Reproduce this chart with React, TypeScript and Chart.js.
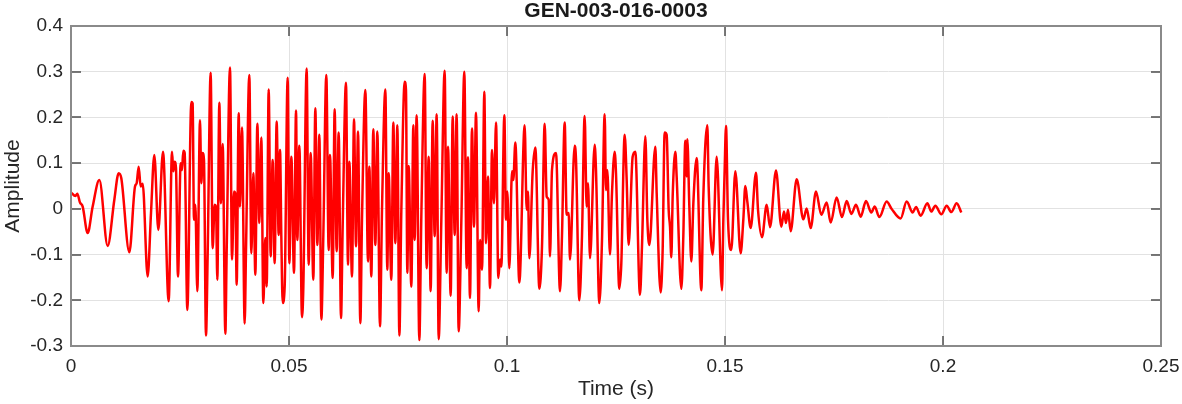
import React, { useEffect, useRef } from "react";
import { Chart, registerables } from "chart.js";

Chart.register(...registerables);

const TITLE = "GEN-003-016-0003";
const X_LABEL = "Time (s)";
const Y_LABEL = "Amplitude";
const X_TICKS = [0, 0.05, 0.1, 0.15, 0.2, 0.25];
const Y_TICKS = [-0.3, -0.2, -0.1, 0, 0.1, 0.2, 0.3, 0.4];

// time of each read point, in milliseconds
const timeMs = [
  0.0, 1.01, 1.45, 2.06, 2.68, 3.82, 4.97, 6.5, 8.41, 9.94, 10.93, 11.54, 13.38, 14.68, 15.06, 15.52, 15.98, 16.44,
  17.58, 18.35, 19.11, 20.03, 21.1, 22.4, 23.17, 23.47, 23.78, 24.08, 24.54, 25.15, 25.46, 25.76, 26.07, 26.68,
  27.6, 27.9, 28.21, 28.52, 28.97, 29.59, 29.89, 30.2, 30.5, 30.96, 31.35, 32.03, 32.49, 32.95, 33.26, 33.56,
  34.02, 34.4, 34.79, 35.4, 35.7, 36.47, 36.93, 37.39, 37.69, 38.0, 38.46, 38.76, 39.22, 39.83, 40.14, 40.9,
  41.36, 41.82, 42.28, 42.74, 43.2, 43.65, 44.11, 44.57, 44.88, 45.34, 45.8, 46.25, 46.71, 47.17, 47.63, 47.94,
  48.24, 48.55, 49.01, 49.69, 50.08, 50.54, 51.15, 51.61, 51.91, 52.37, 52.98, 53.29, 54.05, 54.51, 54.97, 55.58,
  56.04, 56.5, 56.96, 57.42, 57.87, 58.56, 59.1, 59.4, 60.02, 60.47, 60.93, 61.39, 61.93, 62.31, 63.07, 63.53,
  63.84, 64.45, 64.91, 65.37, 65.83, 66.36, 66.74, 67.51, 68.12, 68.43, 68.88, 69.34, 69.8, 70.26, 70.87, 71.33,
  72.1, 72.55, 72.86, 73.47, 73.93, 74.39, 74.85, 75.31, 75.76, 76.53, 76.83, 77.14, 77.45, 78.06, 78.52, 78.82,
  79.28, 79.89, 80.35, 81.12, 81.57, 82.03, 82.49, 82.95, 83.41, 83.87, 84.33, 84.94, 85.7, 86.16, 86.47, 87.08,
  87.54, 88.0, 88.45, 88.91, 89.52, 90.21, 90.75, 91.05, 91.51, 91.97, 92.43, 92.89, 93.5, 93.81, 94.27, 94.8,
  95.18, 95.64, 96.1, 96.56, 97.02, 97.48, 98.01, 98.39, 98.7, 99.39, 99.77, 100.08, 100.53, 101.15, 101.45,
  101.91, 102.83, 104.05, 104.51, 104.82, 105.12, 105.89, 106.5, 107.42, 108.03, 108.64, 109.1, 109.56, 109.86,
  110.32, 111.24, 112.16, 112.61, 113.23, 113.68, 114.14, 114.45, 115.52, 115.83, 116.59, 117.2, 117.81, 118.27,
  118.58, 119.04, 120.11, 120.41, 121.18, 121.79, 122.4, 122.71, 123.01, 123.62, 124.08, 124.69, 125.0, 125.76,
  126.22, 126.99, 127.45, 127.9, 128.82, 129.43, 130.5, 130.96, 131.73, 132.19, 132.65, 134.02, 134.33, 135.24,
  135.7, 136.16, 136.62, 137.08, 137.39, 137.69, 138.0, 138.61, 138.91, 139.98, 140.44, 140.9, 141.21, 141.36,
  141.82, 142.28, 142.74, 143.5, 144.57, 145.03, 145.95, 146.25, 147.17, 148.09, 149.31, 149.62, 149.92, 150.23,
  150.69, 151.45, 152.37, 153.59, 154.2, 154.66, 155.12, 155.89, 157.11, 157.57, 158.49, 159.56, 160.32, 161.7,
  162.92, 163.53, 163.99, 164.45, 165.06, 166.44, 167.97, 168.73, 169.65, 170.87, 172.09, 173.32, 174.24, 175.61,
  176.83, 177.91, 178.98, 180.05, 181.12, 182.34, 183.56, 184.33, 185.4, 187.08, 188.15, 190.29, 191.67, 193.04,
  193.81, 194.88, 196.41, 197.32, 198.24, 199.62, 200.84, 201.91, 203.13, 204.2,
];

const amplitude = [
  0.036, 0.028, 0.033, 0.014, 0.005, -0.053, 0.005, 0.063, -0.081, 0.02, 0.078, 0.067, -0.095, 0.049, 0.056, 0.092, 0.049, 0.055,
  -0.148, -0.009, 0.118, -0.046, 0.125, -0.202, 0.125, 0.082, 0.103, 0.089, -0.148, 0.1, 0.085, 0.127, 0.122, -0.221,
  0.234, 0.231, -0.024, 0.009, -0.18, 0.194, 0.056, 0.122, 0.107, -0.277, -0.097, 0.298, -0.086, 0.009, 0.005, -0.155,
  0.232, 0.012, 0.142, -0.273, -0.097, 0.309, -0.111, 0.038, 0.034, -0.166, 0.209, 0.005, 0.178, -0.251, -0.09, 0.293,
  -0.097, 0.078, -0.144, 0.186, -0.031, 0.156, -0.206, -0.064, -0.17, 0.261, -0.104, 0.107, -0.119, 0.191, -0.057, 0.129,
  -0.06, -0.206, -0.17, 0.287, -0.119, 0.114, -0.14, 0.215, -0.068, 0.138, -0.237, -0.17, 0.307, -0.122, 0.122, -0.155,
  0.22, -0.079, 0.162, -0.242, -0.06, 0.293, -0.09, 0.118, -0.151, 0.218, -0.093, 0.167, -0.239, -0.039, 0.276, -0.122,
  0.103, -0.148, 0.196, -0.082, 0.169, -0.25, -0.024, 0.26, -0.115, 0.092, -0.148, 0.174, -0.079, 0.169, -0.257, -0.002,
  0.261, -0.133, 0.078, -0.155, 0.189, -0.075, 0.183, -0.277, -0.006, 0.278, 0.26, -0.14, 0.094, -0.17, 0.183, -0.068,
  0.205, -0.287, -0.017, 0.295, -0.13, 0.114, -0.18, 0.193, -0.06, 0.207, -0.285, -0.024, 0.302, -0.14, 0.136, -0.19,
  0.202, -0.057, 0.207, -0.268, -0.031, 0.3, -0.13, 0.113, -0.195, 0.176, -0.039, 0.21, -0.224, -0.068, -0.133, 0.256,
  -0.075, 0.071, -0.173, 0.129, 0.012, 0.189, -0.151, -0.111, -0.126, 0.205, -0.024, 0.038, -0.13, 0.082, 0.063,
  0.145, -0.161, 0.183, -0.002, 0.038, -0.108, 0.082, 0.134, -0.175, -0.082, 0.186, 0.027, 0.02, -0.104,
  0.085, 0.122, -0.18, -0.06, 0.189, -0.013, -0.009, -0.111, 0.138, 0.107, -0.2, -0.06, 0.203, 0.005,
  0.056, -0.108, 0.14, 0.085, -0.206, -0.068, 0.207, 0.041, 0.085, -0.1, 0.034, 0.125, 0.078, -0.175,
  -0.119, 0.162, 0.063, -0.079, 0.114, 0.125, -0.188, -0.082, 0.159, -0.024, -0.079, 0.136, 0.034, -0.183,
  -0.09, 0.167, 0.162, -0.002, -0.039, -0.106, 0.027, 0.125, 0.071, -0.175, -0.06, 0.149, 0.071, 0.152,
  0.005, -0.115, 0.012, 0.111, -0.178, 0.027, 0.183, 0.049, -0.1, 0.114, -0.178, -0.024, 0.085, 0.181,
  -0.024, -0.09, 0.082, -0.097, -0.024, 0.05, 0.016, -0.042, 0.079, -0.002, -0.062, 0.009, -0.04, 0.084,
  -0.039, -0.006, -0.031, -0.002, -0.049, 0.065, -0.023, 0.001, -0.042, 0.038, -0.013, 0.014, -0.03, 0.025,
  -0.018, 0.017, -0.011, 0.009, -0.017, 0.017, -0.008, 0.005, -0.018, 0.016, 0.001, -0.021, 0.016, -0.008,
  0.004, -0.015, 0.012, -0.006, 0.007, -0.012, 0.007, -0.007, 0.012, -0.008,
];

const fmt = (v: number) => String(Number(v.toFixed(3)));

const framePlugin = {
  id: "matlabFrame",
  afterDraw(chart: any) {
    const { ctx, chartArea } = chart;
    const { left, right, top, bottom } = chartArea;
    const xs = chart.scales.x;
    const ys = chart.scales.y;
    ctx.save();
    // inner ticks
    ctx.strokeStyle = "#4d4d4d";
    ctx.lineWidth = 1.5;
    const tl = 10;
    X_TICKS.forEach((v) => {
      const px = Math.round(xs.getPixelForValue(v));
      ctx.beginPath();
      ctx.moveTo(px, bottom);
      ctx.lineTo(px, bottom - tl);
      ctx.moveTo(px, top);
      ctx.lineTo(px, top + tl);
      ctx.stroke();
    });
    Y_TICKS.forEach((v) => {
      const py = Math.round(ys.getPixelForValue(v));
      ctx.beginPath();
      ctx.moveTo(left, py);
      ctx.lineTo(left + tl, py);
      ctx.moveTo(right, py);
      ctx.lineTo(right - tl, py);
      ctx.stroke();
    });
    // box
    ctx.strokeStyle = "#8a8a8a";
    ctx.lineWidth = 2;
    ctx.strokeRect(left, top, right - left, bottom - top);
    // title
    ctx.fillStyle = "#1a1a1a";
    ctx.textAlign = "center";
    ctx.textBaseline = "middle";
    ctx.font = "bold 21px 'Liberation Sans', Arial, sans-serif";
    ctx.fillText(TITLE, (left + right) / 2, 11);
    // axis labels
    ctx.fillStyle = "#262626";
    ctx.font = "21px 'Liberation Sans', Arial, sans-serif";
    ctx.fillText(X_LABEL, (left + right) / 2, 389);
    ctx.translate(13, (top + bottom) / 2);
    ctx.rotate(-Math.PI / 2);
    ctx.fillText(Y_LABEL, 0, 0);
    ctx.restore();
  },
};

export default function App() {
  const ref = useRef<HTMLCanvasElement | null>(null);

  useEffect(() => {
    if (!ref.current) return;
    const points = timeMs.map((t, i) => ({ x: t / 1000, y: amplitude[i] }));
    const tickFont = { family: "'Liberation Sans', Arial, sans-serif", size: 19 };
    const chart = new Chart(ref.current, {
      type: "line",
      data: {
        datasets: [
          {
            data: points,
            borderColor: "#ff0000",
            borderWidth: 2.5,
            pointRadius: 0,
            fill: false,
            cubicInterpolationMode: "monotone",
          },
        ],
      },
      options: {
        animation: false,
        responsive: false,
        devicePixelRatio: 1,
        parsing: false,
        layout: { padding: { top: 26, right: 21, left: 0, bottom: 0 } },
        plugins: { legend: { display: false }, tooltip: { enabled: false }, title: { display: false } },
        scales: {
          x: {
            type: "linear",
            min: 0,
            max: 0.25,
            afterBuildTicks: (s: any) => {
              s.ticks = X_TICKS.map((v) => ({ value: v }));
            },
            afterFit: (s: any) => {
              s.height = 58;
              s.paddingLeft = 0;
              s.paddingRight = 0;
            },
            ticks: {
              callback: (v: any) => fmt(Number(v)),
              color: "#262626",
              font: tickFont,
              padding: 9,
              maxRotation: 0,
              autoSkip: false,
            },
            grid: { color: "#e2e2e2", lineWidth: 1, drawTicks: false },
            border: { display: false },
          },
          y: {
            type: "linear",
            min: -0.3,
            max: 0.4,
            afterBuildTicks: (s: any) => {
              s.ticks = Y_TICKS.map((v) => ({ value: v }));
            },
            afterFit: (s: any) => {
              s.width = 71;
              s.paddingTop = 0;
              s.paddingBottom = 0;
            },
            ticks: {
              callback: (v: any) => fmt(Number(v)),
              color: "#262626",
              font: tickFont,
              padding: 8,
              autoSkip: false,
            },
            grid: { color: "#e2e2e2", lineWidth: 1, drawTicks: false },
            border: { display: false },
          },
        },
      },
      plugins: [framePlugin],
    } as any);
    return () => chart.destroy();
  }, []);

  return (
    <div style={{ position: "fixed", left: 0, top: 0, width: 1182, height: 404, background: "#fff" }}>
      <canvas ref={ref} width={1182} height={404} style={{ width: 1182, height: 404, display: "block" }} />
    </div>
  );
}
